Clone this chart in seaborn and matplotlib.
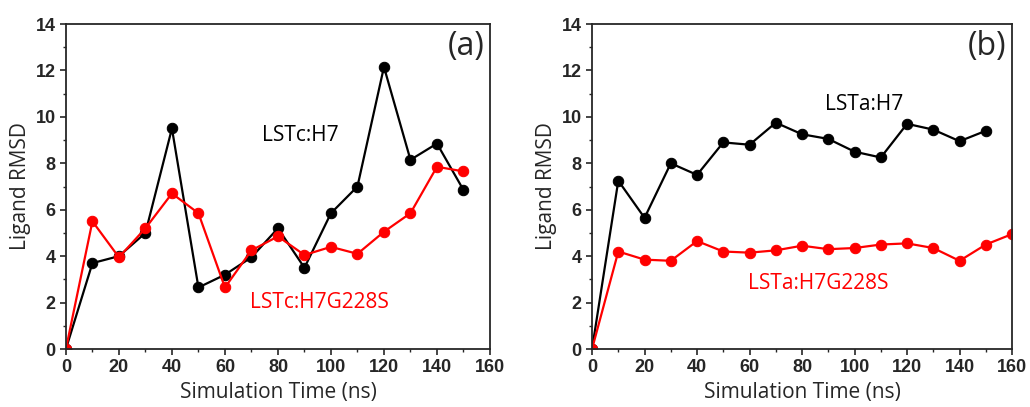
import pandas as pd
import matplotlib.pyplot as plt
import seaborn as sns
from matplotlib.ticker import MultipleLocator

time_a = [0, 10, 20, 30, 40, 50, 60, 70, 80, 90, 100, 110, 120, 130, 140, 150]
lstc_h7 = [0, 3.7, 4.0, 5.0, 9.5, 2.65, 3.2, 3.95, 5.2, 3.5, 5.85, 7.0, 12.15, 8.15, 8.85, 6.85]
lstc_g228s = [0, 5.5, 3.95, 5.2, 6.7, 5.85, 2.65, 4.25, 4.85, 4.05, 4.4, 4.1, 5.05, 5.85, 7.85, 7.65]

time_b_h7 = [0, 10, 20, 30, 40, 50, 60, 70, 80, 90, 100, 110, 120, 130, 140, 150]
lsta_h7 = [0, 7.25, 5.65, 8.0, 7.5, 8.9, 8.8, 9.75, 9.25, 9.05, 8.5, 8.25, 9.7, 9.45, 8.95, 9.4]
time_b_g228s = [0, 10, 20, 30, 40, 50, 60, 70, 80, 90, 100, 110, 120, 130, 140, 150, 160]
lsta_g228s = [0, 4.2, 3.85, 3.8, 4.65, 4.2, 4.15, 4.25, 4.45, 4.3, 4.35, 4.5, 4.55, 4.35, 3.8, 4.5, 4.95]

sns.set_style("ticks")
# tick numbers: bold Arial look; other text gets Open Sans explicitly
plt.rcParams['font.family'] = ['Liberation Sans', 'DejaVu Sans']
plt.rcParams['font.weight'] = 'bold'
label_font = dict(family=['Open Sans', 'DejaVu Sans'], fontweight='normal')

fig = plt.figure(figsize=(10.3, 4.07), dpi=100)
ax_a = fig.add_axes([0.064, 0.1425, 0.4117, 0.7985])
ax_b = fig.add_axes([0.5748, 0.1425, 0.4078, 0.7985])

def draw(ax, x1, y1, x2, y2):
    df1 = pd.DataFrame({'t': x1, 'rmsd': y1})
    df2 = pd.DataFrame({'t': x2, 'rmsd': y2})
    sns.lineplot(data=df1, x='t', y='rmsd', ax=ax, color='black', marker='o',
                 markersize=7.5, markeredgecolor='black', linewidth=1.6)
    sns.lineplot(data=df2, x='t', y='rmsd', ax=ax, color='#ff0000', marker='o',
                 markersize=7.5, markeredgecolor='#ff0000', linewidth=1.6)
    ax.set_xlim(0, 160)
    ax.set_ylim(0, 14)
    ax.xaxis.set_major_locator(MultipleLocator(20))
    ax.xaxis.set_minor_locator(MultipleLocator(10))
    ax.yaxis.set_major_locator(MultipleLocator(2))
    ax.yaxis.set_minor_locator(MultipleLocator(1))
    ax.tick_params(which='major', direction='out', length=4, width=1.2, labelsize=13)
    ax.tick_params(which='minor', direction='out', length=2.5, width=1)
    for sp in ax.spines.values():
        sp.set_linewidth(1.3)
        sp.set_visible(True)
    ax.set_xlabel('Simulation Time (ns)', fontsize=15, labelpad=4, **label_font)
    ax.set_ylabel('Ligand RMSD', fontsize=15, labelpad=3, **label_font)

draw(ax_a, time_a, lstc_h7, time_a, lstc_g228s)
ax_a.text(158, 13.05, '(a)', fontsize=23, ha='right', va='center', **label_font)
ax_a.text(74, 9.2, 'LSTc:H7', fontsize=15, ha='left', va='center', color='black', **label_font)
ax_a.text(69.4, 2.0, 'LSTc:H7G228S', fontsize=15, ha='left', va='center', color='#ff0000', **label_font)

draw(ax_b, time_b_h7, lsta_h7, time_b_g228s, lsta_g228s)
ax_b.text(158, 13.05, '(b)', fontsize=23, ha='right', va='center', **label_font)
ax_b.text(88.8, 10.55, 'LSTa:H7', fontsize=15, ha='left', va='center', color='black', **label_font)
ax_b.text(59.5, 2.84, 'LSTa:H7G228S', fontsize=15, ha='left', va='center', color='#ff0000', **label_font)

fig.savefig('out.png', dpi=100)
